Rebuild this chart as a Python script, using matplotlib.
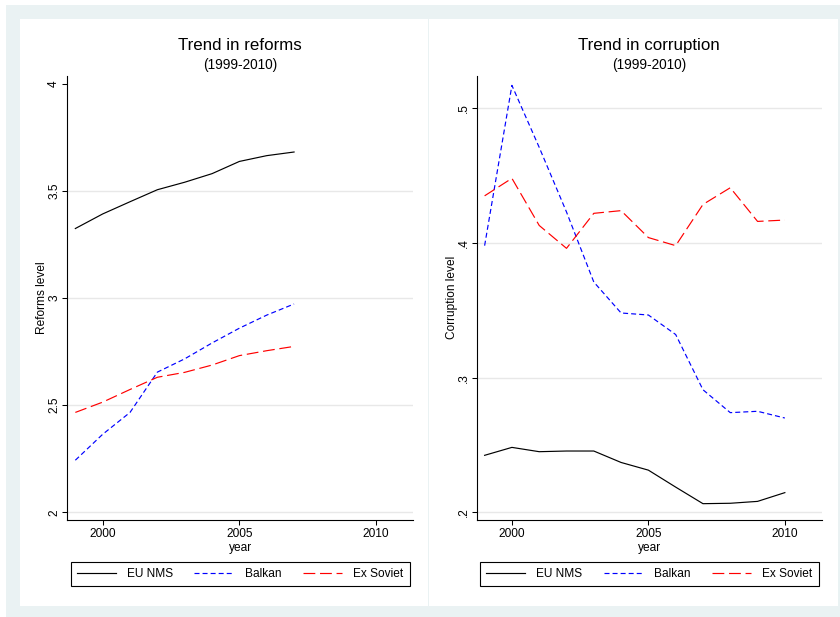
#!/usr/bin/env python3
"""
Trend in reforms and corruption (1999-2010) for EU NMS, Balkan and Ex Soviet groups,
drawn as two side by side panels in a Stata-like style.
"""

import matplotlib
matplotlib.use("Agg")
import matplotlib.pyplot as plt
from matplotlib.patches import Rectangle
from matplotlib.lines import Line2D

# ---- data -------------------------------------------------------------
groups = ["EU NMS", "Balkan", "Ex Soviet"]

reform_years = [1999, 2000, 2001, 2002, 2003, 2004, 2005, 2006, 2007]
reform_eu_nms = [3.324, 3.392, 3.449, 3.505, 3.540, 3.580, 3.637, 3.664, 3.681]
reform_balkan = [2.243, 2.364, 2.466, 2.654, 2.716, 2.790, 2.859, 2.920, 2.972]
reform_ex_soviet = [2.466, 2.514, 2.573, 2.630, 2.653, 2.687, 2.731, 2.754, 2.774]

corr_years = [1999, 2000, 2001, 2002, 2003, 2004, 2005, 2006, 2007, 2008, 2009, 2010]
corr_eu_nms = [0.2423, 0.2482, 0.2450, 0.2455, 0.2455, 0.2370, 0.2313, 0.2187,
               0.2064, 0.2067, 0.2081, 0.2146]
corr_balkan = [0.398, 0.517, 0.471, 0.423, 0.371, 0.348, 0.3465, 0.332,
               0.291, 0.274, 0.275, 0.270]
corr_ex_soviet = [0.435, 0.448, 0.413, 0.396, 0.422, 0.424, 0.404, 0.398,
                  0.4286, 0.441, 0.416, 0.417]

x_ticks = [2000, 2005, 2010]
reform_ticks = [2, 2.5, 3, 3.5, 4]
reform_tick_labels = ["2", "2.5", "3", "3.5", "4"]
reform_grid = [2, 2.5, 3, 3.5]
corr_ticks = [0.2, 0.3, 0.4, 0.5]
corr_tick_labels = [".2", ".3", ".4", ".5"]
corr_grid = [0.2, 0.3, 0.4, 0.5]

# ---- style ------------------------------------------------------------
W, H = 840, 617
BG = "#EAF2F3"
GRID = "#E8E8E8"
FS = 8.6

plt.rcParams["font.family"] = ["Liberation Sans", "DejaVu Sans"]
plt.rcParams["lines.scale_dashes"] = False

line_styles = {
    "EU NMS": dict(color="black", linestyle="-"),
    "Balkan": dict(color="#0000FF", linestyle=(0, (3.6, 2.2))),
    "Ex Soviet": dict(color="#FF0000", linestyle=(0, (8.5, 3.4))),
}


def fx(x):
    return x / W


def fy(y):
    return 1 - y / H


def draw_panel(fig, rect_px, xlim, ylim, years, series, ticks, tick_labels, grid,
               title, ylabel):
    left, top, right, bottom = rect_px
    ax = fig.add_axes([fx(left), fy(bottom), (right - left) / W, (bottom - top) / H])
    ax.set_facecolor("none")
    for name, values in zip(groups, series):
        ax.plot(years, values, linewidth=0.85, label=name, **line_styles[name])
    for g in grid:
        ax.axhline(g, color=GRID, linewidth=1.0, zorder=0)
    ax.set_xlim(*xlim)
    ax.set_ylim(*ylim)
    ax.set_xticks(x_ticks)
    ax.set_xticklabels([str(t) for t in x_ticks])
    ax.set_yticks(ticks)
    ax.set_yticklabels(tick_labels)
    ax.tick_params(length=3.6, width=0.75, labelsize=FS, pad=2.5)
    ax.tick_params(axis="y", labelrotation=90, pad=1.5)
    for lbl in ax.get_yticklabels():
        lbl.set_va("center")
    for s in ["top", "right"]:
        ax.spines[s].set_visible(False)
    for s in ["left", "bottom"]:
        ax.spines[s].set_linewidth(0.8)

    cx = (left + right) / 2
    fig.text(fx(cx), fy(45.2), title, ha="center", va="center", fontsize=12.2)
    fig.text(fx(cx), fy(65.0), "(1999-2010)", ha="center", va="center", fontsize=9.8)
    fig.text(fx(cx), fy(547.5), "year", ha="center", va="center", fontsize=FS)
    # axis title sits just left of the tick labels, as in the original
    fig.text(fx(left - 25), fy((top + bottom) / 2), ylabel, ha="center", va="center",
             rotation=90, fontsize=FS)

    handles = [Line2D([], [], linewidth=0.85, **line_styles[n]) for n in groups]
    leg = ax.legend(handles, groups, loc="center", ncol=3,
                    bbox_to_anchor=(fx(cx), fy(573.7)), bbox_transform=fig.transFigure,
                    fontsize=FS, frameon=True, fancybox=False, framealpha=1,
                    edgecolor="black", handlelength=3.3, handletextpad=0.95,
                    columnspacing=1.75, borderpad=0.5, borderaxespad=0)
    leg.get_frame().set_linewidth(0.8)
    return ax


def main():
    fig = plt.figure(figsize=(W / 100, H / 100), dpi=100, facecolor="white")

    # outer background and the two white panels
    fig.patches.append(Rectangle((fx(6), 0), 1 - fx(6), fy(5), transform=fig.transFigure,
                                 facecolor=BG, edgecolor="none", zorder=-3))
    fig.patches.append(Rectangle((fx(20), fy(606)), fx(428) - fx(20), fy(19) - fy(606),
                                 transform=fig.transFigure, facecolor="white",
                                 edgecolor="none", zorder=-2))
    fig.patches.append(Rectangle((fx(429.5), fy(606)), fx(838) - fx(429.5), fy(19) - fy(606),
                                 transform=fig.transFigure, facecolor="white",
                                 edgecolor="none", zorder=-2))

    draw_panel(fig, (67.3, 75.7, 413, 519.7), (1998.706, 2011.35), (1.9655, 4.037),
               reform_years, [reform_eu_nms, reform_balkan, reform_ex_soviet],
               reform_ticks, reform_tick_labels, reform_grid,
               "Trend in reforms", "Reforms level")

    draw_panel(fig, (476.7, 75.7, 821.7, 519.7), (1998.71, 2011.35), (0.1945, 0.5242),
               corr_years, [corr_eu_nms, corr_balkan, corr_ex_soviet],
               corr_ticks, corr_tick_labels, corr_grid,
               "Trend in corruption", "Corruption level")

    fig.savefig("out.png", dpi=100, facecolor=fig.get_facecolor())


if __name__ == "__main__":
    main()
